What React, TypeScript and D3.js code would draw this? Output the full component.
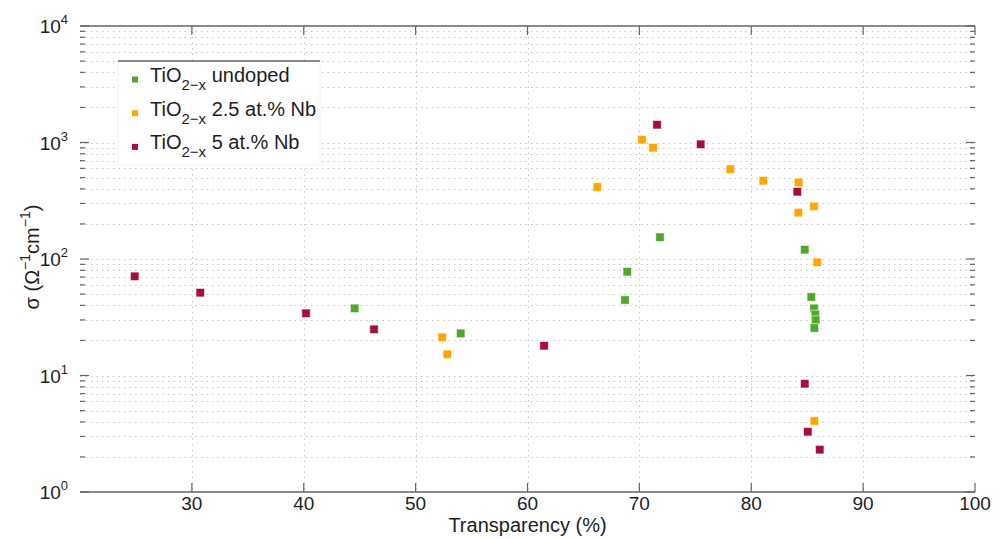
import React from "react";
import * as d3 from "d3";

// Transparency (%) vs conductivity (Ω⁻¹cm⁻¹) for three TiO2-x film series
const undopedX = [44.55, 54.03, 68.72, 68.92, 71.84, 84.78, 85.37, 85.61, 85.73, 85.76, 85.64];
const undopedY = [37.7, 23.0, 44.5, 77.8, 153.6, 120.2, 47.2, 37.7, 33.4, 29.9, 25.6];

const nb25X = [52.38, 52.83, 66.24, 70.23, 71.22, 78.13, 81.08, 84.24, 85.61, 84.21, 85.9, 85.64];
const nb25Y = [21.3, 15.2, 415, 1057, 902, 589, 470, 455, 283, 250, 93.7, 4.07];

const nb5X = [24.89, 30.75, 40.2, 46.28, 61.48, 71.58, 75.48, 84.12, 84.78, 85.05, 86.12];
const nb5Y = [71.0, 51.4, 34.2, 24.9, 18.0, 1421, 965, 378, 8.5, 3.29, 2.31];

const xTicks = [30, 40, 50, 60, 70, 80, 90, 100];
const yDecades = [0, 1, 2, 3, 4];

const seriesNames = ["undoped", "2.5 at.% Nb", "5 at.% Nb"];
const seriesColors = ["#4fa82a", "#ffa500", "#a50f38"];

const W = 1003;
const H = 539;
const M = { left: 80, right: 975, top: 26, bottom: 492 };
const FONT = "'Liberation Sans', Arial, Helvetica, sans-serif";

export default function App() {
  const x = d3.scaleLinear().domain([20, 100]).range([M.left, M.right]);
  const y = d3.scaleLog().domain([1, 1e4]).range([M.bottom, M.top]);

  const majorY = yDecades.map((e) => Math.pow(10, e));
  const minorY: number[] = [];
  yDecades.slice(0, -1).forEach((e) => {
    for (let k = 2; k <= 9; k++) minorY.push(k * Math.pow(10, e));
  });

  const series = [
    { xs: undopedX, ys: undopedY },
    { xs: nb25X, ys: nb25Y },
    { xs: nb5X, ys: nb5Y },
  ];

  const gridColor = "#c4c4c4";
  const axisColor = "#646464";
  const textColor = "#1e1e1e";
  const ms = 8.5;

  return (
    <svg
      width={W}
      height={H}
      style={{ position: "absolute", left: 0, top: 0, background: "#fff" }}
      fontFamily={FONT}
    >
      {/* dotted grid */}
      <g stroke={gridColor} strokeWidth={1} strokeDasharray="1.5,4">
        {[...majorY.slice(1, -1), ...minorY].map((v, i) => (
          <line key={"gy" + i} x1={M.left} x2={M.right} y1={Math.round(y(v)) + 0.5} y2={Math.round(y(v)) + 0.5} />
        ))}
        {xTicks.slice(0, -1).map((v, i) => (
          <line key={"gx" + i} x1={Math.round(x(v)) + 0.5} x2={Math.round(x(v)) + 0.5} y1={M.top} y2={M.bottom} />
        ))}
      </g>

      {/* top and bottom axis lines */}
      <g stroke={axisColor} strokeWidth={1.3}>
        <line x1={M.left} x2={M.right} y1={M.top} y2={M.top} />
        <line x1={M.left} x2={M.right} y1={M.bottom} y2={M.bottom} />
      </g>

      {/* tick marks */}
      <g stroke={axisColor} strokeWidth={1.2}>
        {xTicks.map((v, i) => (
          <g key={"tx" + i}>
            <line x1={x(v)} x2={x(v)} y1={M.bottom} y2={M.bottom - 9} />
            <line x1={x(v)} x2={x(v)} y1={M.top} y2={M.top + 9} />
          </g>
        ))}
        {majorY.map((v, i) => (
          <g key={"ty" + i}>
            <line x1={M.left} x2={M.left + 9} y1={y(v)} y2={y(v)} />
            <line x1={M.right} x2={M.right - 9} y1={y(v)} y2={y(v)} />
          </g>
        ))}
        {minorY.map((v, i) => (
          <g key={"tm" + i}>
            <line x1={M.left} x2={M.left + 5} y1={y(v)} y2={y(v)} />
            <line x1={M.right} x2={M.right - 5} y1={y(v)} y2={y(v)} />
          </g>
        ))}
      </g>

      {/* x tick labels */}
      <g fontSize={19} fill={textColor} textAnchor="middle">
        {xTicks.map((v, i) => (
          <text key={"lx" + i} x={x(v)} y={M.bottom + 18}>
            {v}
          </text>
        ))}
      </g>

      {/* y tick labels as powers of ten */}
      <g fill={textColor}>
        {yDecades.map((e, i) => (
          <text key={"ly" + i} x={M.left - 12} y={y(Math.pow(10, e)) + 7} textAnchor="end" fontSize={19}>
            10
            <tspan fontSize={13} dy={-9}>
              {e}
            </tspan>
          </text>
        ))}
      </g>

      {/* axis titles */}
      <text x={(M.left + M.right) / 2} y={532} textAnchor="middle" fontSize={20} fill={textColor}>
        Transparency (%)
      </text>
      <text
        transform={`translate(39, 257) rotate(-90)`}
        textAnchor="middle"
        fontSize={20}
        fill={textColor}
      >
        σ (Ω
        <tspan fontSize={14} dy={-9}>−1</tspan>
        <tspan dy={9}>cm</tspan>
        <tspan fontSize={14} dy={-9}>−1</tspan>
        <tspan dy={9}>)</tspan>
      </text>

      {/* markers */}
      {series.map((s, si) => (
        <g key={"s" + si} fill={seriesColors[si]} stroke="#ffffff" strokeOpacity={0.6} strokeWidth={1}>
          {s.xs.map((xv, i) => (
            <rect key={i} x={x(xv) - ms / 2} y={y(s.ys[i]) - ms / 2} width={ms} height={ms} />
          ))}
        </g>
      ))}

      {/* legend */}
      <g>
        <rect x={118} y={61} width={202} height={104} fill="#fff" stroke="#f2f2f2" strokeWidth={1} />
        <line x1={118} x2={320} y1={61} y2={61} stroke={axisColor} strokeWidth={1.5} />
        {seriesNames.map((name, i) => {
          const cy = 79.5 + i * 33.7;
          return (
            <g key={"lg" + i}>
              <rect x={132} y={cy - 3} width={6} height={6} fill={seriesColors[i]} />
              <text x={150} y={cy + 2.5} fontSize={20} fill={textColor}>
                TiO
                <tspan fontSize={15} dy={8}>2−x</tspan>
                <tspan dy={-8}>{" " + name}</tspan>
              </text>
            </g>
          );
        })}
      </g>
    </svg>
  );
}
